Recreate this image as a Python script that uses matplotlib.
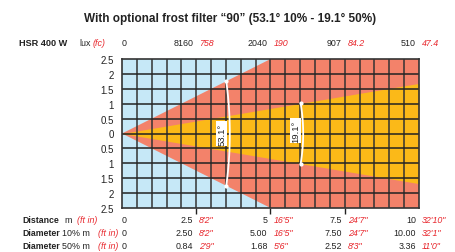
"""
Beam chart: HSR 400 W with optional frost filter "90"
"""

import numpy as np
import matplotlib
matplotlib.use("Agg")
import matplotlib.pyplot as plt
import matplotlib.transforms as mtrans

plt.rcParams['font.family'] = ['Liberation Sans', 'DejaVu Sans']

# ---- data ----
distances = [0, 2.5, 5, 7.5, 10]
dist_lbl = ['0', '2.5', '5', '7.5', '10']
dist_ft = ['', "8'2\"", "16'5\"", "24'7\"", "32'10\""]
lux = ['0', '8160', '2040', '907', '510']
fc = ['', '758', '190', '84.2', '47.4']
diam10 = ['0', '2.50', '5.00', '7.50', '10.00']
diam10_ft = ['', "8'2\"", "16'5\"", "24'7\"", "32'1\""]
diam50 = ['0', '0.84', '1.68', '2.52', '3.36']
diam50_ft = ['', "2'9\"", "5'6\"", "8'3\"", "11'0\""]
angle10 = 53.1   # beam angle at 10 %
angle50 = 19.1   # beam angle at 50 %

RED = '#e8262c'
INK = '#222222'
FS = 6.4
FSB = 6.3   # bold row labels are a bit narrower in the reference

fig = plt.figure(figsize=(4.56, 2.53), dpi=100)
ax = fig.add_axes([122 / 456, 1 - 209 / 253, 297 / 456, 149 / 253])
ax.set_facecolor('#c6e8f7')
ax.set_xlim(0, 10)
ax.set_ylim(-2.5, 2.5)

x = np.array([0, 10.0])
h10 = x * np.tan(np.radians(angle10 / 2))
h50 = x * np.tan(np.radians(angle50 / 2))
ax.fill_between(x, -h10, h10, color='#f3826a', lw=0, zorder=1)
ax.fill_between(x, -h50, h50, color='#fbb918', lw=0, zorder=1.5)

# grid every 0.5 m
for gx in np.arange(0.5, 10, 0.5):
    ax.axvline(gx, color='#333333', lw=1.1, zorder=2)
for gy in np.arange(-2, 2.5, 0.5):
    ax.axhline(gy, color='#222222', lw=1.1, zorder=2)
for s in ax.spines.values():
    s.set_color('#333333')
    s.set_linewidth(1.2)
    s.set_zorder(3)

# angle arcs
def draw_arc(cx, r, half_deg, label, lx, ly):
    t = np.tan(np.radians(half_deg))
    # intersection of circle (centre cx,0) with the cone edge y = t*x
    a = 1 + t * t
    b = -2 * cx
    c = cx * cx - r * r
    xe = (-b + np.sqrt(b * b - 4 * a * c)) / (2 * a)
    ye = t * xe
    phi = np.arcsin(ye / r)
    th = np.linspace(-phi, phi, 60)
    ax.plot(cx + r * np.cos(th), r * np.sin(th), color='white', lw=1.3, zorder=4)
    ax.plot([xe, xe], [ye, -ye], 'o', color='white', ms=2, zorder=4)
    ax.text(lx, ly, label, rotation=90, ha='center', va='center', fontsize=6.8,
            color=INK, zorder=5,
            bbox=dict(boxstyle='square,pad=0.12', fc='white', ec='none'))

draw_arc(-9.3, 12.93, angle10 / 2, '53.1°', 3.36, 0.0)
draw_arc(0.0, 6.1, angle50 / 2, '19.1°', 5.85, 0.1)

ax.set_yticks(np.arange(-2.5, 2.51, 0.5))
ax.set_yticklabels(['%g' % abs(v) for v in np.arange(-2.5, 2.51, 0.5)])
ax.set_xticks([2.5, 5, 7.5])
ax.set_xticklabels([])
ax.tick_params(axis='y', length=0, pad=6, labelsize=7, labelcolor=INK)
ax.tick_params(axis='x', direction='out', length=4, width=1, color='#222222')

# title
fig.text(0.505, 1 - 19 / 253, 'With optional frost filter \u201c90\u201d (53.1\u00b0 10% - 19.1\u00b0 50%)',
         ha='center', va='center', fontsize=8.5, fontweight='bold', color=INK)

tr = mtrans.blended_transform_factory(ax.transData, fig.transFigure)
px = lambda p: p / 456  # figure fraction from pixels
py = lambda p: 1 - p / 253


def value_row(ypix, blacks, reds):
    for d, b, r in zip(distances, blacks, reds):
        if d == 0:
            fig.text(d, py(ypix), b, transform=tr, ha='left', va='center',
                     fontsize=FS, color=INK)
            continue
        ax.annotate(b, xy=(d, py(ypix)), xycoords=tr, xytext=(-3, 0),
                    textcoords='offset pixels', ha='right', va='center',
                    fontsize=FS, color=INK, annotation_clip=False)
        ax.annotate(r, xy=(d, py(ypix)), xycoords=tr, xytext=(3, 0),
                    textcoords='offset pixels', ha='left', va='center',
                    fontsize=FS, color=RED, style='italic', annotation_clip=False)


# top row: lux (fc)
fig.text(px(19), py(44), 'HSR 400 W', fontsize=6.6, fontweight='bold', color=INK, va='center')
fig.text(px(79), py(44), 'lux', fontsize=FS, color=INK, va='center')
fig.text(px(93), py(44), '(fc)', fontsize=FS, color=RED, style='italic', va='center')
value_row(44, lux, fc)

# bottom rows
rows = [
    (221, 'Distance', 'm', 64, 77, dist_lbl, dist_ft),
    (234, 'Diameter', '10% m', 62, 98, diam10, diam10_ft),
    (247, 'Diameter', '50% m', 62, 98, diam50, diam50_ft),
]
for ypix, bold, unit, ux, fx, blacks, reds in rows:
    fig.text(px(22), py(ypix), bold, fontsize=FSB, fontweight='bold', color=INK, va='center')
    fig.text(px(ux), py(ypix), unit, fontsize=FS, color=INK, va='center')
    fig.text(px(fx), py(ypix), '(ft in)', fontsize=FS, color=RED, style='italic', va='center')
    value_row(ypix, blacks, reds)

fig.savefig('out.png', dpi=100)
